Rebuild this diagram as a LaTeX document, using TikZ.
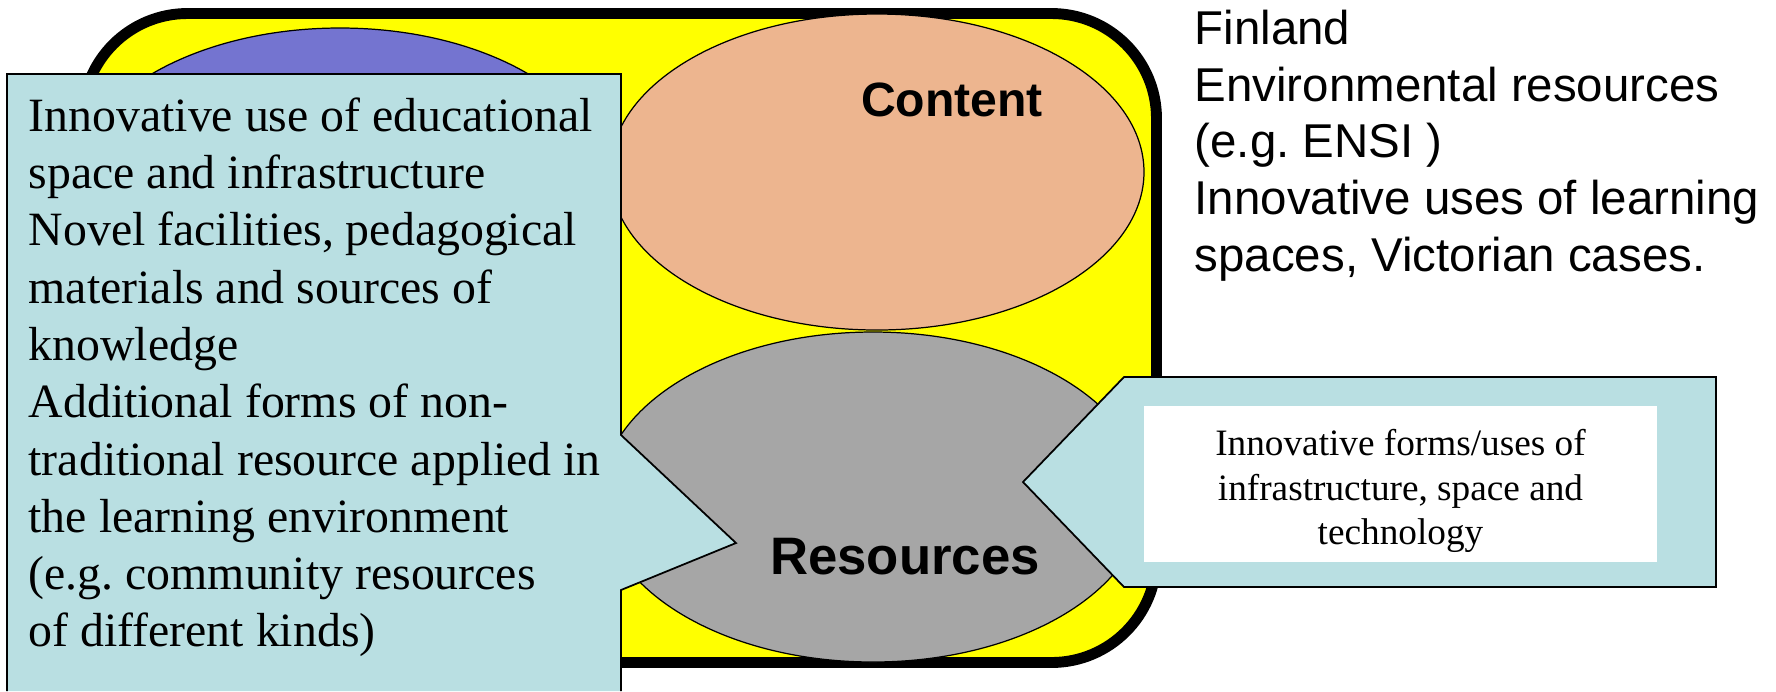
\documentclass[tikz,border=0pt]{standalone}
\usepackage{fontspec}
\setmainfont{Liberation Serif}
\setsansfont{Liberation Sans}
\usepackage{tikz}
\usetikzlibrary{shapes.geometric,calc}
\definecolor{boxyellow}{HTML}{FFFF00}
\definecolor{ovalblue}{HTML}{7474D0}
\definecolor{ovalorange}{HTML}{EDB58F}
\definecolor{ovalgray}{HTML}{A6A6A6}
\definecolor{calloutblue}{HTML}{B9DFE2}
\tikzstyle{oval}=[ellipse, draw, line width=0.35pt, minimum width=53.4mm, minimum height=31.6mm, inner sep=0pt]
\frenchspacing

\begin{document}
\begin{tikzpicture}[x=0.1mm,y=-0.1mm,ovaltitle/.style={font=\fontsize{13.7pt}{16pt}\selectfont\sffamily\bfseries},serifnote/.style={anchor=north west,align=left,inner sep=0pt,font=\fontsize{13.6pt}{16.3pt}\selectfont},sansnote/.style={anchor=north west,align=left,inner sep=0pt,font=\fontsize{13.5pt}{16.2pt}\selectfont\sffamily},callout/.style={fill=calloutblue,draw,line width=0.5pt}]
\useasboundingbox (0,0) rectangle (1776,691);
\draw[line width=3.1pt,fill=boxyellow,rounded corners=10.5mm] (82.5,13.5) rectangle (1156.5,662.5);

\node (blueoval) at (340,186)[oval,fill=ovalblue] {};
\node (contentoval) at (877,172)[oval,fill=ovalorange] {};
\node (resourceoval) at (873,497)[oval,fill=ovalgray,minimum width=54.4mm,minimum height=33mm] {};
\node (content) at (952,100)[ovaltitle] {Content};

\fill[calloutblue] (7,74) -- (621,74) -- (621,435) -- (736,543) -- (621,590) -- (621,691) -- (7,691) -- cycle;
\draw[line width=0.5pt] (7,691) -- (7,74) -- (621,74) -- (621,435) -- (736,543) -- (621,590) -- (621,691);
\node (resources) at (905,557)[ovaltitle,font=\fontsize{15pt}{17pt}\selectfont\sffamily\bfseries] {Resources};

\draw[callout] (1124,377) -- (1716,377) -- (1716,587) -- (1124,587) -- (1023,482) -- cycle;
\node (techbox) at (1400.5,484)[fill=white,minimum width=51.3mm,minimum height=15.6mm] {};
\node (techtext) at (1400.5,491)[align=center,font=\fontsize{10.6pt}{12.6pt}\selectfont] {Innovative forms/uses of\\infrastructure, space and\\technology};

\node (spacenote) at (28,97)[serifnote] {Innovative use of educational\\space and infrastructure\\Novel facilities, pedagogical\\materials and sources of\\knowledge\\Additional forms of non-\\traditional resource applied in\\the learning environment\\(e.g. community resources\\of different kinds)};
\node (finland) at (1194,9)[sansnote] {Finland\\Environmental resources\\(e.g. ENSI )\\Innovative uses of learning\\spaces, Victorian cases.};
\end{tikzpicture}
\end{document}
